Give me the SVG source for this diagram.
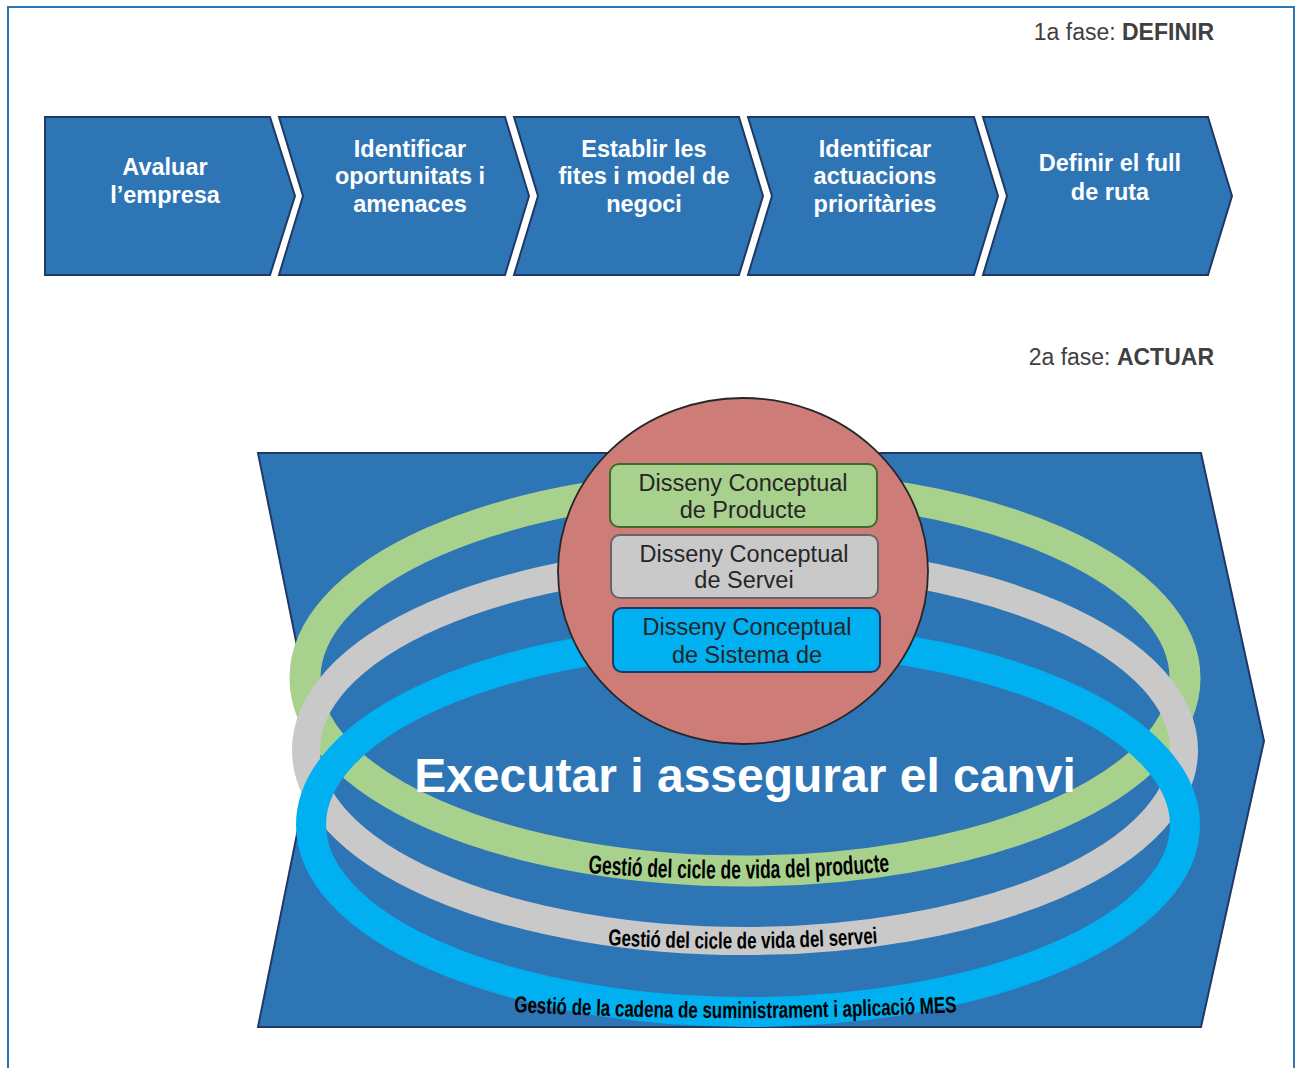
<svg xmlns="http://www.w3.org/2000/svg" width="1298" height="1068" viewBox="0 0 1298 1068">
  <style>
    .frame { fill: none; stroke: #2e75b6; stroke-width: 2; }
    .step { fill: #2e75b6; stroke: #1f3864; stroke-width: 2; stroke-linejoin: miter; }
    .step-text { font-family: "Liberation Sans", Arial, sans-serif; font-weight: bold; font-size: 23.5px; fill: #ffffff; text-anchor: middle; }
    .phase { font-family: "Liberation Sans", Arial, sans-serif; font-size: 23px; fill: #404040; text-anchor: end; }
    .phase .strong { font-weight: bold; }
    .ring { fill: none; }
    .hub { fill: #cd7c78; stroke: #262626; stroke-width: 1.8; }
    .box-text { font-family: "Liberation Sans", Arial, sans-serif; font-size: 23.5px; fill: #262626; text-anchor: middle; }
    .headline { font-family: "Liberation Sans", Arial, sans-serif; font-weight: bold; font-size: 48px; fill: #ffffff; text-anchor: middle; }
    .ring-label { font-family: "Liberation Sans Narrow", "Liberation Sans", Arial, sans-serif; font-weight: bold; fill: #000000; }
  </style>
  <defs>
    <path id="arc-product" d="M 588 873 Q 740 885 893 871"/>
    <path id="arc-service" d="M 608 945 Q 744 953 880 943"/>
    <path id="arc-supply" d="M 514 1012 Q 736 1024 959 1012"/>
  </defs>

  <rect width="1298" height="1068" fill="#ffffff"/>
  <!-- outer frame (runs past the bottom edge) -->
  <rect class="frame" x="8" y="7" width="1286" height="1090"/>

  <!-- phase 1 -->
  <text class="phase" x="1214" y="40">1a fase: <tspan class="strong">DEFINIR</tspan></text>

  <g id="step-avaluar">
    <polygon class="step" points="45,117 270,117 295,196 270,275 45,275"/>
    <text class="step-text" x="165" y="175">Avaluar</text>
    <text class="step-text" x="165" y="203">l’empresa</text>
  </g>
  <g id="step-oportunitats">
    <polygon class="step" points="279,117 505,117 529,196 505,275 279,275 303,196"/>
    <text class="step-text" x="410" y="157">Identificar</text>
    <text class="step-text" x="410" y="184">oportunitats i</text>
    <text class="step-text" x="410" y="212">amenaces</text>
  </g>
  <g id="step-fites">
    <polygon class="step" points="514,117 739,117 763,196 739,275 514,275 538,196"/>
    <text class="step-text" x="644" y="157">Establir les</text>
    <text class="step-text" x="644" y="184">fites i model de</text>
    <text class="step-text" x="644" y="212">negoci</text>
  </g>
  <g id="step-actuacions">
    <polygon class="step" points="748,117 974,117 998,196 974,275 748,275 772,196"/>
    <text class="step-text" x="875" y="157">Identificar</text>
    <text class="step-text" x="875" y="184">actuacions</text>
    <text class="step-text" x="875" y="212">prioritàries</text>
  </g>
  <g id="step-full-ruta">
    <polygon class="step" points="983,117 1208,117 1232,196 1208,275 983,275 1007,196"/>
    <text class="step-text" x="1110" y="171">Definir el full</text>
    <text class="step-text" x="1110" y="200">de ruta</text>
  </g>

  <!-- phase 2 -->
  <text class="phase" x="1214" y="365">2a fase: <tspan class="strong">ACTUAR</tspan></text>

  <g id="actuar-band">
    <polygon class="step" points="258,453 1201,453 1264,741 1201,1027 258,1027 316,740"/>
  </g>

  <g id="rings">
    <ellipse id="ring-product" class="ring" cx="745" cy="678" rx="440" ry="193" stroke="#a9d18e" stroke-width="31"/>
    <ellipse id="ring-service" class="ring" cx="745" cy="750" rx="439" ry="191" stroke="#c9c9c9" stroke-width="28"/>
    <ellipse id="ring-supply" class="ring" cx="748" cy="825" rx="437" ry="187" stroke="#00b0f0" stroke-width="30"/>
  </g>

  <g id="ring-labels">
    <text class="ring-label" font-size="26px"><textPath href="#arc-product" textLength="302" lengthAdjust="spacingAndGlyphs">Gestió del cicle de vida del producte</textPath></text>
    <text class="ring-label" font-size="23px"><textPath href="#arc-service" textLength="270" lengthAdjust="spacingAndGlyphs">Gestió del cicle de vida del servei</textPath></text>
    <text class="ring-label" font-size="23px"><textPath href="#arc-supply" textLength="443" lengthAdjust="spacingAndGlyphs">Gestió de la cadena de suministrament i aplicació MES</textPath></text>
  </g>

  <text class="headline" x="745" y="792">Executar i assegurar el canvi</text>

  <g id="hub">
    <ellipse class="hub" cx="743" cy="571" rx="185" ry="173"/>
  </g>

  <g id="box-producte">
    <rect x="610" y="464" width="267" height="63" rx="9" fill="#a9d18e" stroke="#3f6b2a" stroke-width="2"/>
    <text class="box-text" x="743" y="491">Disseny Conceptual</text>
    <text class="box-text" x="743" y="518">de Producte</text>
  </g>
  <g id="box-servei">
    <rect x="611" y="535" width="267" height="63" rx="9" fill="#c9c9c9" stroke="#666666" stroke-width="2"/>
    <text class="box-text" x="744" y="562">Disseny Conceptual</text>
    <text class="box-text" x="744" y="588">de Servei</text>
  </g>
  <g id="box-sistema">
    <rect x="613" y="608" width="267" height="64" rx="9" fill="#00b0f0" stroke="#1f3864" stroke-width="2"/>
    <text class="box-text" x="747" y="635">Disseny Conceptual</text>
    <text class="box-text" x="747" y="663">de Sistema de</text>
  </g>
</svg>
